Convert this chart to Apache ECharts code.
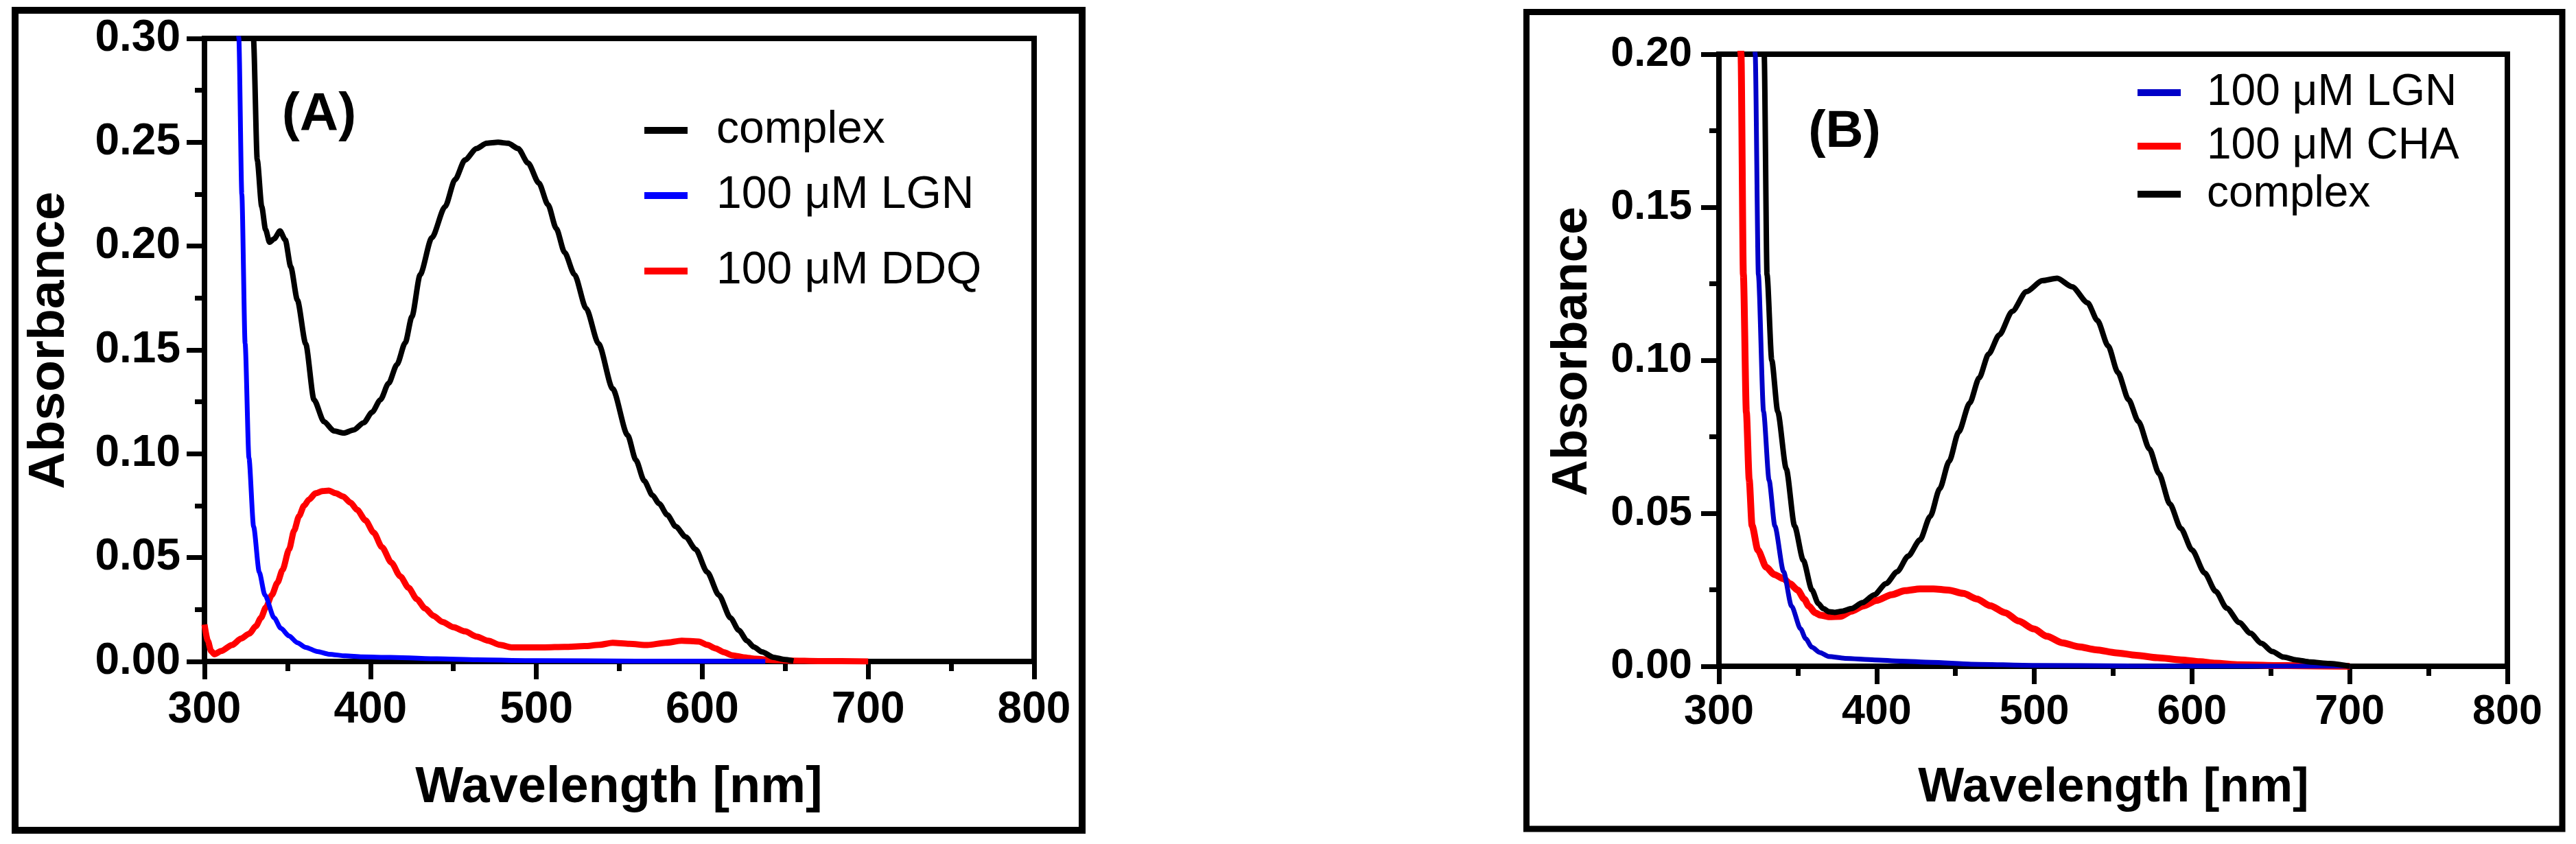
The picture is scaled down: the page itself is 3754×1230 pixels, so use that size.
<!DOCTYPE html>
<html>
<head>
<meta charset="utf-8">
<script src="https://cdn.jsdelivr.net/npm/echarts@6/dist/echarts.min.js"></script>
<style>
html,body{margin:0;padding:0;background:#fff;}
#chart{width:3754px;height:1230px;}
</style>
</head>
<body>
<div id="chart"></div>
<script>
// ---------- Panel A data ----------
const A_complex_nm = [327.5, 329.5, 331.8, 334.5, 336.8, 339.2, 342, 345.5, 348.7, 352, 356, 361, 366, 372, 378, 384, 390, 396, 401, 406, 411, 416, 421, 425, 430, 437, 445, 451, 457, 464, 470, 477, 483, 489, 495, 501.5, 507, 512, 517, 523, 530, 537.5, 546, 555, 560, 565, 570, 574, 579, 584, 590, 596, 603, 610, 617, 622, 627, 631, 636, 643, 649, 655];
const A_complex_abs = [0.34, 0.30, 0.2415, 0.219, 0.208, 0.2019, 0.2035, 0.2073, 0.203, 0.190, 0.174, 0.153, 0.126, 0.1155, 0.111, 0.110, 0.1115, 0.115, 0.120, 0.126, 0.134, 0.143, 0.1535, 0.166, 0.1863, 0.204, 0.219, 0.232, 0.2415, 0.247, 0.2495, 0.250, 0.2495, 0.247, 0.240, 0.2304, 0.220, 0.2085, 0.197, 0.1863, 0.170, 0.153, 0.1313, 0.109, 0.097, 0.087, 0.080, 0.076, 0.0705, 0.065, 0.060, 0.054, 0.043, 0.032, 0.021, 0.015, 0.010, 0.007, 0.0046, 0.002, 0.001, 0.0003];

const A_lgn_nm = [319, 320.7, 322.5, 324.5, 326.8, 329.6, 333, 336.4, 342, 346, 351, 356, 361, 368, 375, 385, 395, 412, 440, 464, 500, 560, 638];
const A_lgn_abs = [0.37, 0.30, 0.225, 0.153, 0.098, 0.065, 0.043, 0.032, 0.021, 0.016, 0.0123, 0.009, 0.0068, 0.0048, 0.0035, 0.0027, 0.0022, 0.002, 0.0013, 0.0008, 0.0004, 0.0002, 0.0];

const A_ddq_nm = [300, 302, 304, 306, 310, 316.6, 322, 327, 331, 334, 337, 340.6, 344, 347, 351, 354, 357, 360, 363, 367, 371, 375, 379, 383.5, 388, 392, 397, 402, 407, 412.6, 418, 423, 428, 433, 438, 443.5, 450, 457, 464, 471, 478, 485, 495, 505, 517, 529, 538, 546, 556, 567, 578, 587.6, 598, 603, 608, 613, 618, 625, 632, 642, 653, 670, 700];
const A_ddq_abs = [0.0178, 0.010, 0.005, 0.0035, 0.005, 0.0079, 0.011, 0.0134, 0.017, 0.021, 0.026, 0.032, 0.038, 0.044, 0.054, 0.063, 0.070, 0.075, 0.078, 0.081, 0.082, 0.0823, 0.081, 0.0795, 0.0765, 0.073, 0.068, 0.062, 0.055, 0.0476, 0.041, 0.0355, 0.030, 0.0255, 0.022, 0.019, 0.0165, 0.0145, 0.012, 0.010, 0.008, 0.0068, 0.0068, 0.0068, 0.007, 0.0074, 0.008, 0.009, 0.0085, 0.0079, 0.009, 0.010, 0.0096, 0.008, 0.0063, 0.0045, 0.003, 0.002, 0.0013, 0.0007, 0.0004, 0.0002, 0.0];

// ---------- Panel B data ----------
const B_lgn_nm = [321.5, 323, 325, 328.3, 331.8, 335.5, 341, 346, 351.8, 355, 359, 364, 369.6, 380, 398.6, 415, 434.6, 460, 500, 560, 700];
const B_lgn_abs = [0.26, 0.20, 0.128, 0.0832, 0.0608, 0.0458, 0.0309, 0.0197, 0.0122, 0.009, 0.0062, 0.0045, 0.0032, 0.0026, 0.0021, 0.0017, 0.0013, 0.0007, 0.0003, 0.0001, 0.0];

const B_cha_nm = [312.5, 314, 315.5, 317.4, 319.2, 321, 324.7, 330, 335, 341, 345, 350, 354, 357, 361, 364.4, 370, 377, 384, 391.4, 400, 409.5, 418, 427.5, 436, 445.6, 455, 463.6, 472, 481.5, 490, 499.7, 508, 517.6, 528, 539, 552, 564.6, 578, 593, 605, 615, 630, 660, 700];
const B_cha_abs = [0.26, 0.20, 0.128, 0.083, 0.061, 0.046, 0.038, 0.0324, 0.030, 0.0286, 0.027, 0.0249, 0.022, 0.0197, 0.0175, 0.0167, 0.0162, 0.0163, 0.018, 0.0197, 0.0215, 0.0234, 0.0247, 0.0253, 0.0253, 0.0249, 0.0238, 0.022, 0.0198, 0.0175, 0.0148, 0.0122, 0.0098, 0.0077, 0.0064, 0.0054, 0.0044, 0.0036, 0.0028, 0.0021, 0.0015, 0.0010, 0.0005, 0.0002, 0.0];

const B_complex_nm = [327.5, 328.7, 330.5, 333.5, 337.3, 342.7, 348, 353.5, 359, 363, 366, 370, 373.4, 378, 384.3, 391, 398.6, 406, 413, 420, 427.5, 434, 440, 446, 452, 459, 465, 471, 477.8, 486, 495, 505, 514.5, 524, 533.8, 540, 546.8, 553, 559.8, 566, 573, 579, 586, 593, 600, 608, 615, 622, 630, 637, 644, 651, 658, 666, 675, 687, 700];
const B_complex_abs = [0.25, 0.20, 0.128, 0.100, 0.0832, 0.0645, 0.0458, 0.0346, 0.0249, 0.0205, 0.0189, 0.0178, 0.0176, 0.0180, 0.0189, 0.0208, 0.0234, 0.027, 0.0309, 0.036, 0.0413, 0.049, 0.058, 0.067, 0.0765, 0.086, 0.0942, 0.102, 0.1083, 0.116, 0.1224, 0.126, 0.1268, 0.124, 0.1188, 0.113, 0.1047, 0.096, 0.0871, 0.080, 0.071, 0.063, 0.053, 0.045, 0.038, 0.0305, 0.0245, 0.019, 0.0143, 0.0108, 0.0075, 0.0048, 0.003, 0.0021, 0.0014, 0.0009, 0.0];

// ---------- Labels ----------
const xTitle = 'Wavelength [nm]';
const yTitle = 'Absorbance';
const panelA = '(A)';
const panelB = '(B)';
const A_legend = ['complex (A)', '100 μM LGN (A)', '100 μM DDQ'];
const B_legend = ['100 μM LGN (B)', '100 μM CHA', 'complex (B)'];

function pairs(xs, ys) { return xs.map((x, i) => [x, ys[i]]); }
const FONT = '"Liberation Sans", Arial, Helvetica, sans-serif';

const chart = echarts.init(document.getElementById('chart'), null, {renderer: 'canvas'});

function xAxisCfg(gi, fs, margin) {
  return {
    gridIndex: gi, type: 'value', min: 300, max: 800, interval: 100,
    axisLine: {show: true, onZero: false, lineStyle: {color: '#000', width: 8}},
    axisTick: {show: true, length: 26, lineStyle: {color: '#000', width: 7}},
    minorTick: {show: true, splitNumber: 2, length: 14, lineStyle: {color: '#000', width: 7}},
    splitLine: {show: false},
    axisLabel: {color: '#000', fontFamily: FONT, fontWeight: 'bold', fontSize: fs, margin: margin}
  };
}
function yAxisCfg(gi, max, fs, margin) {
  return {
    gridIndex: gi, type: 'value', min: 0, max: max, interval: 0.05,
    axisLine: {show: true, onZero: false, lineStyle: {color: '#000', width: 8}},
    axisTick: {show: true, length: 26, lineStyle: {color: '#000', width: 7}},
    minorTick: {show: true, splitNumber: 2, length: 14, lineStyle: {color: '#000', width: 7}},
    splitLine: {show: false},
    axisLabel: {color: '#000', fontFamily: FONT, fontWeight: 'bold', fontSize: fs, margin: margin,
      formatter: v => v.toFixed(2)}
  };
}
function lineSeries(name, xi, yi, xs, ys, color, width) {
  return {
    name: name, type: 'line', xAxisIndex: xi, yAxisIndex: yi,
    data: pairs(xs, ys), showSymbol: false, symbol: 'none',
    smooth: 0.25, smoothMonotone: 'x', clip: true,
    lineStyle: {color: color, width: width}, itemStyle: {color: color},
    emphasis: {disabled: true}
  };
}
function legendItem(name, left, centerY, fs, pad) {
  return {
    data: [name], left: left, top: centerY - 40, orient: 'vertical', padding: 0,
    icon: 'rect', itemWidth: 63, itemHeight: 10, selectedMode: false,
    formatter: n => n.replace(/ \((A|B)\)$/, ''),
    textStyle: {color: '#000', fontFamily: FONT, fontSize: fs, lineHeight: 80, padding: [0, 0, 0, pad]}
  };
}

const option = {
  animation: false,
  backgroundColor: '#fff',
  grid: [
    {left: 298, top: 56, width: 1209, height: 908, show: true, borderColor: '#000', borderWidth: 8, backgroundColor: 'transparent'},
    {left: 2505, top: 79, width: 1149, height: 892, show: true, borderColor: '#000', borderWidth: 8, backgroundColor: 'transparent'}
  ],
  xAxis: [xAxisCfg(0, 64, 39), xAxisCfg(1, 61, 37)],
  yAxis: [yAxisCfg(0, 0.30, 64, 35), yAxisCfg(1, 0.20, 61, 39)],
  legend: [
    legendItem(A_legend[0], 939, 190, 66, 37),
    legendItem(A_legend[1], 939, 285, 66, 37),
    legendItem(A_legend[2], 939, 395, 66, 37),
    legendItem(B_legend[0], 3115, 135, 64, 33),
    legendItem(B_legend[1], 3115, 213, 64, 33),
    legendItem(B_legend[2], 3115, 283, 64, 33)
  ],
  series: [
    lineSeries(A_legend[2], 0, 0, A_ddq_nm, A_ddq_abs, '#ff0000', 9),
    lineSeries(A_legend[1], 0, 0, A_lgn_nm, A_lgn_abs, '#0000ff', 7),
    lineSeries(A_legend[0], 0, 0, A_complex_nm, A_complex_abs, '#000000', 8),
    lineSeries(B_legend[1], 1, 1, B_cha_nm, B_cha_abs, '#ff0000', 10),
    lineSeries(B_legend[0], 1, 1, B_lgn_nm, B_lgn_abs, '#0000c8', 7),
    lineSeries(B_legend[2], 1, 1, B_complex_nm, B_complex_abs, '#000000', 8)
  ],
  graphic: [
    {type: 'rect', shape: {x: 22, y: 15, width: 1555, height: 1195}, style: {fill: 'none', stroke: '#000', lineWidth: 10}, silent: true},
    {type: 'rect', shape: {x: 2224.5, y: 17.5, width: 1509.5, height: 1190.5}, style: {fill: 'none', stroke: '#000', lineWidth: 9}, silent: true},
    {type: 'text', x: 902, y: 1149, style: {text: xTitle, fill: '#000', font: 'bold 74px ' + FONT, textAlign: 'center', textVerticalAlign: 'middle'}},
    {type: 'text', x: 3080, y: 1148, style: {text: xTitle, fill: '#000', font: 'bold 71px ' + FONT, textAlign: 'center', textVerticalAlign: 'middle'}},
    {type: 'text', x: 72, y: 496, rotation: Math.PI / 2, style: {text: yTitle, fill: '#000', font: 'bold 75px ' + FONT, textAlign: 'center', textVerticalAlign: 'middle'}},
    {type: 'text', x: 2292, y: 512, rotation: Math.PI / 2, style: {text: yTitle, fill: '#000', font: 'bold 73px ' + FONT, textAlign: 'center', textVerticalAlign: 'middle'}},
    {type: 'text', x: 465, y: 168, style: {text: panelA, fill: '#000', font: 'bold 78px ' + FONT, textAlign: 'center', textVerticalAlign: 'middle'}},
    {type: 'text', x: 2688, y: 193, style: {text: panelB, fill: '#000', font: 'bold 76px ' + FONT, textAlign: 'center', textVerticalAlign: 'middle'}}
  ]
};
chart.setOption(option);
</script>
</body>
</html>
